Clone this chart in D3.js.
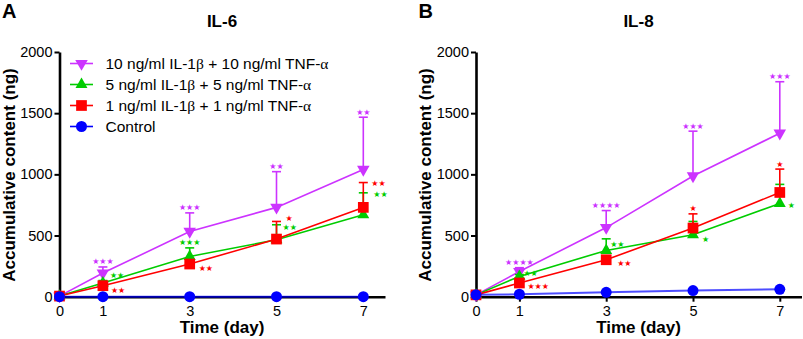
<!DOCTYPE html>
<html>
<head>
<meta charset="utf-8">
<script src="https://cdn.jsdelivr.net/npm/d3@7"></script>
<style>
  body { margin: 0; background: #fff; }
  svg text { font-family: "Liberation Sans", Arial, sans-serif; }
</style>
</head>
<body>
<svg width="803" height="339"></svg>
<script>
const days = [0, 1, 3, 5, 7];
const xTicks = [0, 1, 3, 5, 7];
const yTicks = [0, 500, 1000, 1500, 2000];

const legendLabels = [
  '10 ng/ml IL-1β + 10 ng/ml TNF-α',
  '5 ng/ml IL-1β + 5 ng/ml TNF-α',
  '1 ng/ml IL-1β + 1 ng/ml TNF-α',
  'Control'
];

// IL-6, mean and SD (ng)
const il6High = [5, 193, 533, 730, 1040];
const il6HighSd = [0, 50, 152, 292, 427];
const il6Mid = [5, 112, 329, 465, 669];
const il6MidSd = [0, 20, 70, 123, 180];
const il6Low = [5, 90, 267, 471, 730];
const il6LowSd = [0, 15, 30, 144, 203];
const il6Ctrl = [0, 0, 0, 0, 0];

// IL-8, mean and SD (ng)
const il8High = [15, 206, 565, 987, 1336];
const il8HighSd = [0, 31, 139, 366, 421];
const il8Mid = [15, 166, 378, 506, 762];
const il8MidSd = [0, 15, 95, 109, 156];
const il8Low = [15, 112, 302, 561, 852];
const il8LowSd = [0, 15, 25, 116, 191];
const il8Ctrl = [15, 20, 36, 50, 60];

// significance marks
const il6HighSig = ['', '***', '***', '**', '**'];
const il6MidSig = ['', '**', '***', '**', '**'];
const il6LowSig = ['', '**', '**', '*', '**'];
const il8HighSig = ['', '****', '****', '***', '***'];
const il8MidSig = ['', '**', '**', '*', '*'];
const il8LowSig = ['', '***', '**', '*', '*'];

const colors = ['#cc33ff', '#00cc00', '#ff0000', '#0000ff'];
const shapes = [d3.symbolTriangle, d3.symbolTriangle, d3.symbolSquare, d3.symbolCircle];
const sizes = [68, 62, 115, 95];
const rotations = [180, 0, 0, 0];

// where each mark sits: 'top' above the cap, or [dx, dy] from the point
const il6Place = [
  [null, 'top', 'top', 'top', 'top'],
  [null, [7, -7], 'top', [6, -12], [10, -20]],
  [null, [8, 5], [9, 4], [9, -21], [8, -24]]
];
const il8Place = [
  [null, 'top', 'top', 'top', 'top'],
  [null, [4, -3], [4, -6], [9, 5], [8, 2]],
  [null, [8, 4], [11, 4], 'top', 'top']
];

const svg = d3.select('svg');

function drawPanel(p) {
  const x = d3.scaleLinear().domain([0, 7.5]).range([p.left, p.left + 325.5]);
  const y = d3.scaleLinear().domain([0, 2000]).range([296.7, 52]);
  const g = svg.append('g');

  const yAxis = g.append('g')
    .attr('transform', `translate(${p.left},0)`)
    .call(d3.axisLeft(y).tickValues(yTicks).tickFormat(d3.format('d'))
      .tickSize(5).tickSizeOuter(0).tickPadding(2));
  const xAxis = g.append('g')
    .attr('transform', 'translate(0,296.7)')
    .call(d3.axisBottom(x).tickValues(xTicks).tickFormat(d3.format('d'))
      .tickSize(5).tickSizeOuter(0).tickPadding(4));
  [yAxis, xAxis].forEach(a => {
    a.select('.domain').attr('stroke-width', 2.6);
    a.selectAll('.tick line').attr('stroke-width', 2);
    a.selectAll('.tick text').attr('font-size', 14.5).attr('fill', '#000')
      .style('font-family', '"Liberation Sans", Arial, sans-serif');
  });

  g.append('text').attr('x', p.left - 57.5).attr('y', 18)
    .attr('font-size', 20).attr('font-weight', 'bold').text(p.letter);
  g.append('text').attr('x', p.left + 162.5).attr('y', 27).attr('text-anchor', 'middle')
    .attr('font-size', 17).attr('font-weight', 'bold').text(p.title);
  g.append('text').attr('x', p.left + 162.5).attr('y', 333).attr('text-anchor', 'middle')
    .attr('font-size', 17).attr('font-weight', 'bold').text('Time (day)');
  g.append('text')
    .attr('transform', `translate(${p.left - 45},175) rotate(-90)`)
    .attr('text-anchor', 'middle')
    .attr('font-size', 17).attr('font-weight', 'bold').text('Accumulative content (ng)');

  const line = d3.line().x(d => x(d.day)).y(d => y(d.v));
  const rows = p.series.map((s, i) => days.map((day, j) => ({
    day, v: s[j], sd: p.sd[i] ? p.sd[i][j] : 0
  })));

  rows.forEach((r, i) => {
    g.append('path').datum(r).attr('d', line).attr('fill', 'none')
      .attr('stroke', colors[i]).attr('stroke-width', i === 3 ? 2 : 1.6)
      .attr('stroke-opacity', i === 3 ? 0.7 : 1);
  });

  rows.forEach((r, i) => {
    const eb = g.append('g').attr('stroke', colors[i]).attr('stroke-width', 1.6);
    r.filter(d => d.sd > 0).forEach(d => {
      eb.append('line').attr('x1', x(d.day)).attr('x2', x(d.day))
        .attr('y1', y(d.v)).attr('y2', y(d.v + d.sd));
      eb.append('line').attr('x1', x(d.day) - 4.5).attr('x2', x(d.day) + 4.5)
        .attr('y1', y(d.v + d.sd)).attr('y2', y(d.v + d.sd));
    });
  });

  rows.forEach((r, i) => {
    g.append('g').selectAll('path').data(r).join('path')
      .attr('d', d3.symbol(shapes[i], sizes[i]))
      .attr('transform', d => `translate(${x(d.day)},${y(d.v)}) rotate(${rotations[i]})`)
      .attr('fill', colors[i]);
  });

  p.sig.forEach((marks, i) => {
    marks.forEach((m, j) => {
      if (!m) return;
      const d = rows[i][j];
      const pl = p.place[i][j];
      const t = g.append('text').attr('fill', colors[i]).attr('font-size', 8)
        .style('font-family', '"DejaVu Sans", sans-serif')
        .attr('dominant-baseline', 'central').text(m.replace(/\*/g, '★'));
      if (pl === 'top') {
        t.attr('x', x(d.day)).attr('y', y(d.v + d.sd) - 5).attr('text-anchor', 'middle');
      } else {
        t.attr('x', x(d.day) + pl[0]).attr('y', y(d.v) + pl[1]).attr('text-anchor', 'start');
      }
    });
  });

  return { x, y, g };
}

const panelA = drawPanel({
  left: 59.5, letter: 'A', title: 'IL-6',
  series: [il6High, il6Mid, il6Low, il6Ctrl],
  sd: [il6HighSd, il6MidSd, il6LowSd, null],
  sig: [il6HighSig, il6MidSig, il6LowSig],
  place: il6Place
});

drawPanel({
  left: 476, letter: 'B', title: 'IL-8',
  series: [il8High, il8Mid, il8Low, il8Ctrl],
  sd: [il8HighSd, il8MidSd, il8LowSd, null],
  sig: [il8HighSig, il8MidSig, il8LowSig],
  place: il8Place
});

const legend = panelA.g.append('g').attr('transform', 'translate(70,63.5)');
const items = legend.selectAll('g').data(legendLabels).join('g')
  .attr('transform', (d, i) => `translate(0,${i * 21})`);
items.append('line').attr('x1', 0).attr('x2', 23)
  .attr('stroke', (d, i) => colors[i]).attr('stroke-width', 1.6);
items.append('path')
  .attr('d', (d, i) => d3.symbol(shapes[i], sizes[i])())
  .attr('transform', (d, i) => `translate(11.5,0) rotate(${rotations[i]})`)
  .attr('fill', (d, i) => colors[i]);
items.append('text').attr('x', 35.5).attr('dy', '0.36em').attr('font-size', 15.5)
  .selectAll('tspan').data(d => d.split(/([αβ])/)).join('tspan')
  .style('font-family', t => /[αβ]/.test(t) ? '"Liberation Serif", serif' : null)
  .text(t => t);
</script>
</body>
</html>
